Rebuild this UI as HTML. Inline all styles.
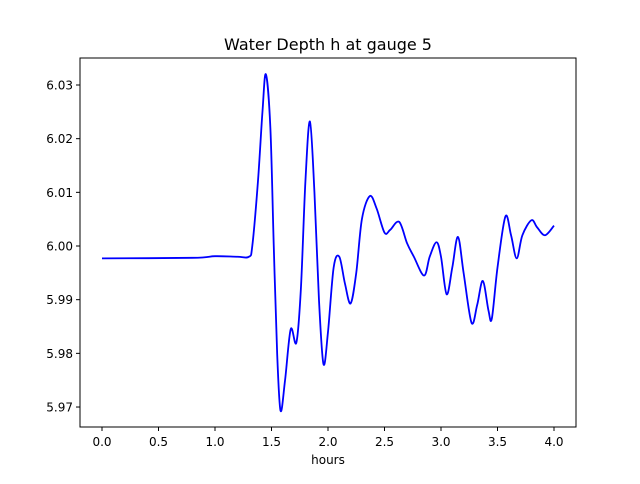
<!DOCTYPE html>
<html><head><meta charset="utf-8"><style>
body{margin:0;background:#fff;font-family:"DejaVu Sans","Liberation Sans",sans-serif;}
svg text{font-family:"DejaVu Sans","Liberation Sans",sans-serif;}
</style></head><body>
<svg width="640" height="480" xmlns="http://www.w3.org/2000/svg">
<rect width="640" height="480" fill="#fff"/>
<text x="328" y="50" text-anchor="middle" font-size="16">Water Depth h at gauge 5</text>
<g id="xt"></g>
<g id="yt"></g>
<path id="line" fill="none" stroke="#0000ff" stroke-width="1.8"/>
<rect x="80" y="58" width="496" height="369" fill="none" stroke="#000" stroke-width="1"/>
<text x="328" y="464" text-anchor="middle" font-size="12">hours</text>
</svg>
<script>
const hours=[0,0.8,1.0,1.2,1.3,1.33,1.38,1.42,1.45,1.49,1.52,1.55,1.58,1.62,1.67,1.72,1.76,1.8,1.84,1.88,1.92,1.96,2.0,2.05,2.1,2.15,2.2,2.25,2.3,2.37,2.43,2.5,2.55,2.63,2.7,2.76,2.85,2.9,2.96,3.0,3.05,3.1,3.15,3.2,3.27,3.32,3.37,3.42,3.45,3.5,3.57,3.62,3.67,3.72,3.8,3.85,3.92,4.0];
const depth=[5.9977,5.9978,5.9981,5.998,5.998,6.0,6.012,6.025,6.032,6.022,6.0,5.98,5.9693,5.975,5.9845,5.982,5.992,6.012,6.0232,6.01,5.99,5.978,5.984,5.996,5.998,5.993,5.9893,5.995,6.005,6.0093,6.007,6.0025,6.003,6.0045,6.0005,5.998,5.9945,5.998,6.0007,5.998,5.991,5.996,6.0017,5.995,5.9857,5.989,5.9935,5.988,5.9865,5.996,6.0055,6.002,5.9977,6.002,6.0048,6.0035,6.002,6.0038];
const xTicks=[0,0.5,1.0,1.5,2.0,2.5,3.0,3.5,4.0];
const yTicks=[5.97,5.98,5.99,6.00,6.01,6.02,6.03];
const X=v=>102+v*113, Y=v=>85+(6.03-v)*5367;
const NS="http://www.w3.org/2000/svg";
const xt=document.getElementById('xt'), yt=document.getElementById('yt');
xTicks.forEach(t=>{
 const l=document.createElementNS(NS,'line');
 
 
 l.setAttribute('x1',X(t));l.setAttribute('x2',X(t));l.setAttribute('y1',427);l.setAttribute('y2',431);l.setAttribute('stroke','#000');xt.appendChild(l);
 const s=document.createElementNS(NS,'text');
 
 
 s.setAttribute('x',X(t));s.setAttribute('y',446);s.setAttribute('text-anchor','middle');s.setAttribute('font-size','12');s.textContent=t.toFixed(1);xt.appendChild(s);
});
yTicks.forEach(t=>{
 const l=document.createElementNS(NS,'line');
 
 
 l.setAttribute('x1',76);l.setAttribute('x2',80);l.setAttribute('y1',Y(t));l.setAttribute('y2',Y(t));l.setAttribute('stroke','#000');yt.appendChild(l);
 const s=document.createElementNS(NS,'text');
 
 
 s.setAttribute('x',73);s.setAttribute('y',Y(t)+4.5);s.setAttribute('text-anchor','end');s.setAttribute('font-size','12');s.textContent=t.toFixed(2);yt.appendChild(s);
});
const P=hours.map((h,i)=>[X(h),Y(depth[i])]);
let d='M'+P[0][0]+','+P[0][1];
for(let i=0;i<P.length-1;i++){
 const p0=P[Math.max(0,i-1)],p1=P[i],p2=P[i+1],p3=P[Math.min(P.length-1,i+2)];
 const c1=[p1[0]+(p2[0]-p0[0])/6,p1[1]+(p2[1]-p0[1])/6];
 const c2=[p2[0]-(p3[0]-p1[0])/6,p2[1]-(p3[1]-p1[1])/6];
 d+=` C${c1[0]},${c1[1]} ${c2[0]},${c2[1]} ${p2[0]},${p2[1]}`;
}
document.getElementById('line').setAttribute('d',d);
</script>
</body></html>
